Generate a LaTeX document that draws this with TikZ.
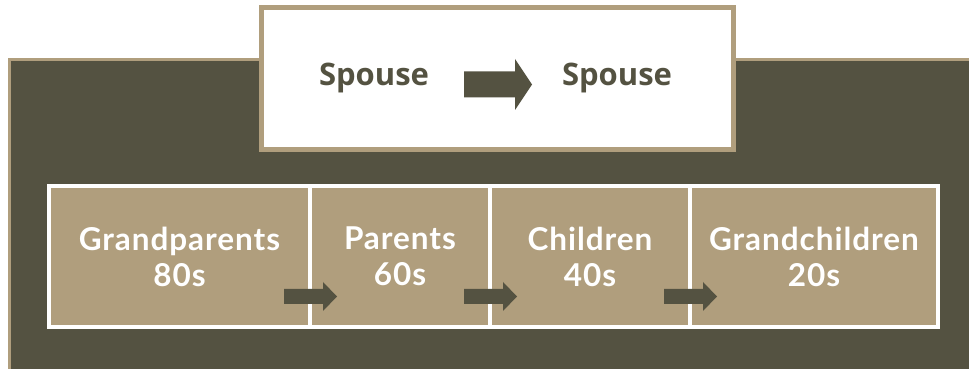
\documentclass[tikz,border=0pt]{standalone}
\usepackage{fontspec}
\setmainfont{Lato}
\newfontfamily\genfont[LetterSpace = 3]{Lato}
\newfontfamily\spousefont{Open Sans}
\usetikzlibrary{positioning}
\usetikzlibrary{calc}
\definecolor{panelDark}{RGB}{84, 82, 65}
\definecolor{sand}{RGB}{176, 158, 125}
\begin{document}
\begin{tikzpicture}[x = 1pt, y = 1pt]
		% Размеры стрелок
		\pgfmathsetmacro{\tShaft}{13}
		\pgfmathsetmacro{\tHead}{12.5}
		\pgfmathsetmacro{\tLen}{51}
		\pgfmathsetmacro{\tTip}{17}
		\pgfmathsetmacro{\bShaft}{7.5}
		\pgfmathsetmacro{\bHead}{7}
		\pgfmathsetmacro{\bLen}{39}
		\pgfmathsetmacro{\bTip}{14}
		% Стили
		\tikzstyle{generation} = [fill = sand, draw = white, line width = 4pt, text = white, font = {\genfont\bfseries\fontsize{31.5}{36}\selectfont}, align = center, inner sep = 0pt, outer sep = 0pt, minimum height = 141pt]
		\tikzstyle{spouse} = [text = panelDark, font = {\spousefont\bfseries\fontsize{31}{36}\selectfont}, anchor = base, inner sep = 0pt]
		\tikzstyle{blockarrow} = [fill = panelDark]
		\useasboundingbox (0, 0) rectangle (969, 369);
		\clip (0, 0) rectangle (969, 369);
		% Фон
		\fill[sand] (8, -5) rectangle (975, 311);
		\fill[panelDark] (11, -5) rectangle (975, 308);
		% Супруги
		\node[draw = sand, line width = 5pt, fill = white, minimum width = 472pt, minimum height = 142pt, inner sep = 0pt] (couple) at (497.5, 290.5) {};
		\node[spouse] (sp1) at (374, 283) {Spouse};
		\node[spouse] (sp2) at (617, 283) {Spouse};
		\coordinate (ta) at ($(sp1.base)!0.5!(sp2.base) + (-31.5, 1.5)$);
		\fill[blockarrow] (ta) ++(0, \tShaft) -- ++(\tLen, 0) -- ++(0, \tHead) -- ++(\tTip, -\tShaft-\tHead) -- ++(-\tTip, -\tShaft-\tHead) -- ++(0, \tHead) -- ++(-\tLen, 0) -- cycle;
		% Поколения
		\node[generation, minimum width = 261pt] (gp) at (179.5, 112.5) {Grandparents\\80s};
		\node[generation, minimum width = 180pt, right = 0pt of gp] (par) {Parents\\60s};
		\node[generation, minimum width = 200pt, right = 0pt of par] (chi) {Children\\40s};
		\node[generation, minimum width = 248pt, right = 0pt of chi] (gch) {Grandchildren\\20s};
		% Стрелки между поколениями
		\coordinate (a1) at ($(gp.east)!0.5!(par.west) + (-26, -40)$);
		\coordinate (a2) at ($(par.east)!0.5!(chi.west) + (-26, -40)$);
		\coordinate (a3) at ($(chi.east)!0.5!(gch.west) + (-26, -40)$);
		\fill[blockarrow] (a1) ++(0, \bShaft) -- ++(\bLen, 0) -- ++(0, \bHead) -- ++(\bTip, -\bShaft-\bHead) -- ++(-\bTip, -\bShaft-\bHead) -- ++(0, \bHead) -- ++(-\bLen, 0) -- cycle;
		\fill[blockarrow] (a2) ++(0, \bShaft) -- ++(\bLen, 0) -- ++(0, \bHead) -- ++(\bTip, -\bShaft-\bHead) -- ++(-\bTip, -\bShaft-\bHead) -- ++(0, \bHead) -- ++(-\bLen, 0) -- cycle;
		\fill[blockarrow] (a3) ++(0, \bShaft) -- ++(\bLen, 0) -- ++(0, \bHead) -- ++(\bTip, -\bShaft-\bHead) -- ++(-\bTip, -\bShaft-\bHead) -- ++(0, \bHead) -- ++(-\bLen, 0) -- cycle;
	\end{tikzpicture}
\end{document}
